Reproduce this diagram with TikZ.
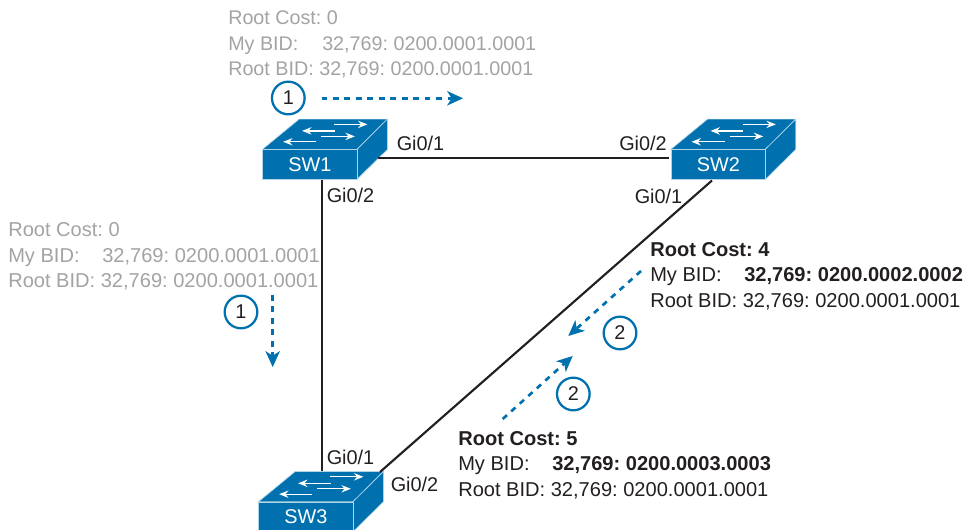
\documentclass[tikz,border=0pt]{standalone}
\usepackage{fontspec}
\setmainfont{Liberation Sans}
\usetikzlibrary{arrows.meta}
\definecolor{swblue}{HTML}{0071AE}
\definecolor{inkblack}{HTML}{231F20}
\definecolor{fadegray}{HTML}{A3A3A3}
\newcommand{\mybid}[1]{\makebox[70.5pt][l]{My BID:}#1}
\tikzset{
  every node/.style={font=\fontsize{14.9}{19}\selectfont\frenchspacing,text=inkblack},
  stat/.style={align=left,anchor=west,inner sep=0pt,font=\fontsize{15.05}{19}\selectfont\frenchspacing},
  faded/.style={stat,text=fadegray},
  port/.style={inner sep=0pt},
  step number/.style={circle,draw=swblue,line width=1.7pt,minimum size=24.5pt,inner sep=0pt},
  flow/.style={swblue,line width=2pt,dash pattern=on 4.3pt off 4.3pt,
    -{Stealth[length=12pt,width=11pt,inset=3.5pt,line width=0pt]}},
  link/.style={inkblack,line width=1.6pt},
  swarrow/.style={white,line width=1pt,-{Stealth[length=7pt,width=5.5pt]}},
  switchicon/.pic={
    \fill[swblue,draw=white!70!swblue,line width=.5pt]
      (0,0) -- (36.8,-30.3) -- (125,-30.3) -- (94.5,0) -- cycle;
    \fill[swblue,draw=white!70!swblue,line width=.5pt]
      (94.5,0) -- (125,-30.3) -- (125,0) -- (94.5,30) -- cycle;
    \node[fill=swblue,draw=white!70!swblue,line width=.5pt,text=white,anchor=north west,
      minimum width=70.9pt,minimum height=22.5pt,inner sep=0pt] (-front) at (0,0) {\raisebox{-1.5pt}{#1}};
    \draw[swarrow] (54,-7.6) -- (20.7,-7.6);
    \draw[swarrow] (59,-13) -- (92.4,-13);
    \draw[swarrow] (72.4,-18.5) -- (39.7,-18.5);
    \draw[swarrow] (71.7,-25) -- (105,-25);
  },
}
\begin{document}
\begin{tikzpicture}[x=.75pt,y=-.75pt]
  \useasboundingbox (0,0) rectangle (968,530);

  %% Switches
  \pic (sw1) at (262.4,149.4) {switchicon=SW1};
  \pic (sw2) at (670.8,149.4) {switchicon=SW2};
  \pic (sw3) at (258.4,501.8) {switchicon=SW3};

  %% Links
  \draw[link] (378,158) coordinate (sw1e) -- (669,158) coordinate (sw2w);
  \draw[link] (322,180) coordinate (sw1s) -- (322,471) coordinate (sw3n);
  \draw[link] (712,180.5) coordinate (sw2s) -- (380,472) coordinate (sw3e);

  %% Port labels
  \node[port] (p1a) at (420.5,143) {Gi0/1};
  \node[port] (p1b) at (350.5,195) {Gi0/2};
  \node[port] (p2b) at (643,143) {Gi0/2};
  \node[port] (p2a) at (658.5,196) {Gi0/1};
  \node[port] (p3a) at (350.5,457) {Gi0/1};
  \node[port] (p3b) at (414.5,484) {Gi0/2};

  %% Hello contents
  \node[faded,font=\fontsize{14.8}{19}\selectfont\frenchspacing] (helloa) at (228,44.5)
    {Root Cost: 0\\ \mybid{32,769: 0200.0001.0001}\\ Root BID: 32,769: 0200.0001.0001};
  \node[faded] (hellob) at (8,256.5)
    {Root Cost: 0\\ \mybid{32,769: 0200.0001.0001}\\ Root BID: 32,769: 0200.0001.0001};
  \node[stat] (helloc) at (650,276)
    {\textbf{Root Cost: 4}\\ \mybid{\textbf{32,769: 0200.0002.0002}}\\ Root BID: 32,769: 0200.0001.0001};
  \node[stat] (hellod) at (458,465)
    {\textbf{Root Cost: 5}\\ \mybid{\textbf{32,769: 0200.0003.0003}}\\ Root BID: 32,769: 0200.0001.0001};

  %% Steps
  \node[step number] (stepa) at (288.3,98) {1};
  \node[step number] (stepb) at (241,312) {1};
  \node[step number] (stepc) at (620,333) {2};
  \node[step number] (stepd) at (573.3,394) {2};

  %% Flows
  \draw[flow] (321.5,98.3) coordinate (flowa) -- (463,98.3) coordinate (flowaend);
  \draw[flow] (272.7,295) coordinate (flowb) -- (272.7,367) coordinate (flowbend);
  \draw[flow] (641,271) coordinate (flowc) -- (568.3,336) coordinate (flowcend);
  \draw[flow] (502.7,419) coordinate (flowd) -- (572.7,356) coordinate (flowdend);
\end{tikzpicture}
\end{document}
